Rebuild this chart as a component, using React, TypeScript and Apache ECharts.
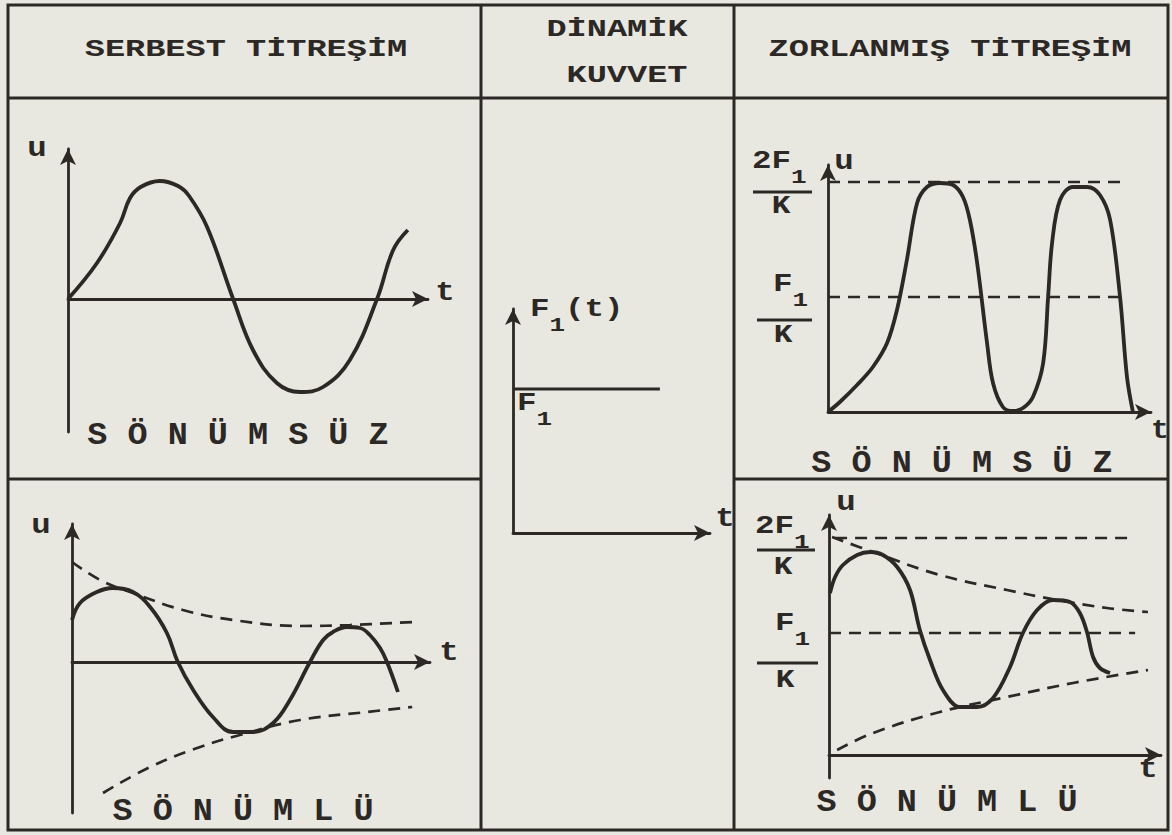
import React, { useEffect, useRef } from "react";
import * as echarts from "echarts";

const INK = "#2c2825";
const PAPER = "#e8e8e1";
const MONO = "'Liberation Mono', 'DejaVu Sans Mono', monospace";

// ---- texts ----
const HEAD_FREE = "SERBEST TİTREŞİM";
const HEAD_FORCE_1 = "DİNAMİK";
const HEAD_FORCE_2 = "KUVVET";
const HEAD_FORCED = "ZORLANMIŞ TİTREŞİM";
const CAPTION_UNDAMPED = "S Ö N Ü M S Ü Z";
const CAPTION_DAMPED = "S Ö N Ü M L Ü";

// ---- data: [t, u] ----
// 1) serbest, sönümsüz
const freeUndamped: number[][] = [
  [0, 0], [0.79, 0.36], [1.42, 0.76], [1.69, 1.01], [1.98, 1.12], [2.5, 1.18],
  [3.0, 1.13], [3.3, 1.03], [3.79, 0.72], [4.5, 0], [5.04, -0.51], [5.69, -0.84],
  [6.32, -0.93], [6.95, -0.88], [7.68, -0.61], [8.42, 0], [8.86, 0.49], [9.26, 0.69],
];
// 2) dinamik kuvvet F1(t)
const stepForce: number[][] = [[0, 1.44], [7.2, 1.44]];
// 3) zorlanmış, sönümsüz
const forcedUndamped: number[][] = [
  [0, 0], [0.36, 0.1], [0.88, 0.27], [1.36, 0.45], [1.79, 0.69], [2.09, 1.02],
  [2.39, 1.52], [2.7, 2.09], [3.0, 2.25], [3.39, 2.29], [3.79, 2.27], [4.09, 2.15],
  [4.3, 1.92], [4.52, 1.49], [4.82, 0.69], [5.0, 0.29], [5.3, 0.05], [5.61, 0.01],
  [5.91, 0.04], [6.21, 0.15], [6.52, 0.49], [6.67, 1.15], [6.79, 1.69], [7.03, 2.12],
  [7.42, 2.25], [7.85, 2.25], [8.24, 2.17], [8.55, 1.92], [8.85, 1.15], [9.06, 0.35],
  [9.24, 0],
];
const forcedUndampedMax: number[][] = [[0, 2.3], [8.94, 2.3]];
const forcedUndampedStatic: number[][] = [[0, 1.15], [9.06, 1.15]];
// 4) serbest, sönümlü
const freeDamped: number[][] = [
  [0, 0.42], [0.22, 0.59], [0.68, 0.7], [1.12, 0.74], [1.67, 0.7], [2.14, 0.55],
  [2.6, 0.29], [2.9, 0], [3.32, -0.28], [3.86, -0.55], [4.41, -0.7], [4.96, -0.7],
  [5.51, -0.61], [5.97, -0.38], [6.52, 0], [6.88, 0.22], [7.15, 0.3], [7.53, 0.35],
  [7.89, 0.34], [8.16, 0.27], [8.44, 0.14], [8.63, 0], [8.93, -0.3],
];
const freeDampedUpper: number[][] = [
  [0, 1.0], [0.77, 0.82], [1.67, 0.69], [3.04, 0.52], [4.41, 0.42], [6.25, 0.36],
  [7.62, 0.37], [9.34, 0.4],
];
const freeDampedLower: number[][] = [
  [0.85, -1.31], [2.14, -1.05], [3.51, -0.85], [4.6, -0.73], [6.25, -0.58],
  [8.08, -0.5], [9.32, -0.45],
];
// 5) zorlanmış, sönümlü
const forcedDamped: number[][] = [
  [0.03, 1.62], [0.18, 1.78], [0.41, 1.9], [0.83, 2.0], [1.21, 2.03], [1.59, 2.0],
  [2.01, 1.88], [2.39, 1.65], [2.68, 1.25], [2.98, 0.95], [3.36, 0.65], [3.86, 0.48],
  [4.37, 0.48], [4.84, 0.57], [5.34, 0.88], [5.72, 1.22], [6.14, 1.45], [6.61, 1.55],
  [7.11, 1.53], [7.4, 1.42], [7.61, 1.23], [7.79, 0.98], [7.99, 0.87], [8.29, 0.82],
];
const forcedDampedUpper: number[][] = [
  [0.09, 2.18], [1.3, 2.03], [3.27, 1.8], [5.25, 1.65], [6.73, 1.55], [8.2, 1.47], [9.41, 1.43],
];
const forcedDampedLower: number[][] = [
  [0.24, 0.05], [1.3, 0.22], [3.27, 0.43], [5.25, 0.58], [7.2, 0.72], [9.41, 0.85],
];
const forcedDampedMax: number[][] = [[0.18, 2.17], [8.94, 2.17]];
const forcedDampedStatic: number[][] = [[0, 1.22], [9.03, 1.22]];

// ---- layout of the five sketches (pixels) ----
const PANELS = [
  { x0: 68, y0: 299, sx: 36.7, sy: 100, xEnd: 428, yTop: 149, yBottom: 432 },
  { x0: 513, y0: 533, sx: 20.4, sy: 100, xEnd: 710, yTop: 309, yBottom: 533 },
  { x0: 828, y0: 412, sx: 33, sy: 100, xEnd: 1151, yTop: 165, yBottom: 412 },
  { x0: 72, y0: 662, sx: 36.5, sy: 100, xEnd: 430, yTop: 524, yBottom: 813 },
  { x0: 829, y0: 755, sx: 33.9, sy: 100, xEnd: 1161, yTop: 515, yBottom: 778 },
];

function axisBase(i: number) {
  return {
    type: "value",
    gridIndex: i,
    axisTick: { show: false },
    axisLabel: { show: false },
    splitLine: { show: false },
    axisLine: {
      show: true,
      onZero: true,
      symbol: ["none", "arrow"],
      symbolSize: [12, 16],
      lineStyle: { color: INK, width: 2.8 },
    },
  };
}

function solid(data: number[][], i: number, smooth: number | boolean = 0.4, width = 3.8) {
  return {
    type: "line",
    xAxisIndex: i,
    yAxisIndex: i,
    data,
    smooth,
    symbol: "none",
    showSymbol: false,
    silent: true,
    clip: false,
    lineStyle: { color: INK, width },
    z: 4,
  };
}

function dashed(data: number[][], i: number, smooth: number | boolean = false) {
  return {
    type: "line",
    xAxisIndex: i,
    yAxisIndex: i,
    data,
    smooth,
    symbol: "none",
    showSymbol: false,
    silent: true,
    clip: false,
    lineStyle: { color: INK, width: 2.7, type: [12, 8] },
    z: 3,
  };
}

function txt(text: string, x: number, y: number, size: number, scaleX = 1.3, align = "center") {
  return {
    type: "text",
    x,
    y,
    scaleX,
    silent: true,
    style: {
      text,
      fontFamily: MONO,
      fontSize: size,
      fontWeight: "bold",
      fill: INK,
      textAlign: align,
      align,
      textVerticalAlign: "middle",
      verticalAlign: "middle",
    },
  };
}

function sub(text: string, x: number, y: number) {
  return {
    type: "text",
    x,
    y,
    scaleX: 1.3,
    silent: true,
    style: {
      text,
      fontFamily: MONO,
      fontSize: 25,
      fontWeight: "bold",
      fill: INK,
      textAlign: "left",
      align: "left",
      textVerticalAlign: "middle",
      verticalAlign: "middle",
      rich: {
        s: { fontSize: 20, fontFamily: MONO, fontWeight: "bold", fill: INK, color: INK, padding: [32, 0, 0, 0] },
      },
    },
  };
}

function bar(x1: number, x2: number, y: number) {
  return { type: "line", silent: true, shape: { x1, y1: y, x2, y2: y }, style: { stroke: INK, lineWidth: 3 } };
}

function tableLine(x1: number, y1: number, x2: number, y2: number) {
  return { type: "line", silent: true, shape: { x1, y1, x2, y2 }, style: { stroke: INK, lineWidth: 3 } };
}

function buildOption() {
  const grid = PANELS.map((p) => ({
    left: p.x0,
    top: p.yTop,
    width: p.xEnd - p.x0,
    height: p.yBottom - p.yTop,
    containLabel: false,
  }));
  const xAxis = PANELS.map((p, i) => ({ ...axisBase(i), min: 0, max: (p.xEnd - p.x0) / p.sx }));
  const yAxis = PANELS.map((p, i) => ({
    ...axisBase(i),
    min: (p.y0 - p.yBottom) / p.sy,
    max: (p.y0 - p.yTop) / p.sy,
  }));

  const series = [
    solid(freeUndamped, 0, 0.4),
    solid(stepForce, 1, false, 3),
    solid(forcedUndamped, 2, 0.35),
    dashed(forcedUndampedMax, 2),
    dashed(forcedUndampedStatic, 2),
    solid(freeDamped, 3, 0.4),
    dashed(freeDampedUpper, 3, 0.4),
    dashed(freeDampedLower, 3, 0.4),
    solid(forcedDamped, 4, 0.35),
    dashed(forcedDampedUpper, 4, 0.4),
    dashed(forcedDampedLower, 4, 0.4),
    dashed(forcedDampedMax, 4),
    dashed(forcedDampedStatic, 4),
  ];

  const graphic = [
    // table
    { type: "rect", silent: true, shape: { x: 8, y: 5, width: 1160, height: 825 }, style: { fill: "none", stroke: INK, lineWidth: 3 } },
    tableLine(8, 98, 1168, 98),
    tableLine(481, 5, 481, 830),
    tableLine(734, 5, 734, 830),
    tableLine(8, 479, 481, 479),
    tableLine(734, 479, 1168, 479),
    // headers
    txt(HEAD_FREE, 246, 50, 24, 1.4),
    txt(HEAD_FORCE_1, 617, 30, 24, 1.4),
    txt(HEAD_FORCE_2, 627, 76, 24, 1.4),
    txt(HEAD_FORCED, 950, 50, 24, 1.4),
    // captions
    txt(CAPTION_UNDAMPED, 238, 436, 31, 1.08),
    txt(CAPTION_UNDAMPED, 962, 464, 31, 1.08),
    txt(CAPTION_DAMPED, 243, 812, 31, 1.08),
    txt(CAPTION_DAMPED, 947, 803, 31, 1.08),
    // axis names
    txt("u", 37, 149, 27, 1.2),
    txt("t", 445, 293, 27, 1.2),
    txt("u", 844, 162, 27, 1.2),
    txt("t", 1160, 431, 27, 1.1),
    txt("u", 41, 526, 27, 1.2),
    txt("t", 449, 653, 27, 1.2),
    txt("u", 846, 503, 27, 1.2),
    txt("t", 1148, 770, 27, 1.2),
    txt("t", 725, 519, 27, 1.2),
    // force labels
    sub("F{s|1}(t)", 530, 310),
    sub("F{s|1}", 517, 404),
    // fractions, top-right
    sub("2F{s|1}", 752, 162),
    bar(753, 812, 192),
    txt("K", 781, 206, 26, 1.2),
    sub("F{s|1}", 773, 285),
    bar(757, 812, 320),
    txt("K", 783, 335, 26, 1.2),
    // fractions, bottom-right
    sub("2F{s|1}", 755, 527),
    bar(757, 815, 550),
    txt("K", 783, 567, 26, 1.2),
    sub("F{s|1}", 775, 624),
    bar(757, 818, 663),
    txt("K", 785, 680, 26, 1.2),
  ];

  return {
    animation: false,
    backgroundColor: PAPER,
    grid,
    xAxis,
    yAxis,
    series,
    graphic,
  };
}

export default function App() {
  const ref = useRef<HTMLDivElement>(null);
  useEffect(() => {
    if (!ref.current) return;
    const chart = echarts.init(ref.current, null, { renderer: "svg" });
    chart.setOption(buildOption() as any);
    return () => chart.dispose();
  }, []);
  return (
    <div
      ref={ref}
      style={{ position: "fixed", left: 0, top: 0, width: 1172, height: 835, background: PAPER }}
    />
  );
}
